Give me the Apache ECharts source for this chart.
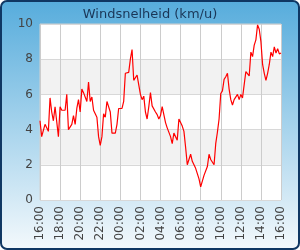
<!DOCTYPE html>
<html>
<head>
<meta charset="utf-8">
<script src="https://cdn.jsdelivr.net/npm/echarts@6/dist/echarts.min.js"></script>
<style>
    html, body { margin: 0; padding: 0; background: #fff; }
    #main { width: 300px; height: 250px; }
</style>
</head>
<body>
<div id="main"></div>
<script>
// wind speed every 10 minutes, 16:00 -> 16:00 next day
var startHour = 16;
var stepMinutes = 10;
var windSpeed = [
    4.5, 3.6, 3.6, 4.3, 4.2, 3.9,      // 16:00
    5.8, 5.0, 4.5, 5.3, 5.2, 3.6,      // 17:00
    5.3, 5.1, 5.1, 5.1, 6.0, 4.0,      // 18:00
    4.1, 4.3, 4.8, 4.3, 5.2, 5.7,      // 19:00
    5.0, 6.3, 6.1, 6.1, 5.6, 6.7,      // 20:00
    5.6, 5.85, 5.1, 5.0, 4.7, 3.6,     // 21:00
    3.1, 3.6, 4.9, 4.7, 5.6, 5.6,      // 22:00
    5.0, 3.8, 3.8, 3.8, 4.3, 5.2,      // 23:00
    5.2, 5.2, 5.6, 7.2, 7.25, 7.25,    // 00:00
    8.0, 8.55, 6.8, 6.8, 7.1, 7.2,     // 01:00
    6.0, 5.7, 5.9, 5.0, 4.6, 5.3,      // 02:00
    6.1, 5.35, 5.35, 5.0, 4.85, 4.6,   // 03:00
    4.8, 5.3, 5.2, 4.4, 4.1, 4.05,     // 04:00
    3.6, 3.2, 3.8, 3.9, 3.4, 4.6,      // 05:00
    4.55, 4.2, 3.9, 3.0, 2.0, 2.3,     // 06:00
    2.6, 2.2, 2.1, 1.8, 1.5, 1.2,      // 07:00
    0.75, 0.7, 1.4, 1.45, 1.9, 2.6,    // 08:00
    2.3, 2.2, 2.0, 3.2, 3.85, 4.6,     // 09:00
    6.05, 6.2, 6.85, 7.0, 7.2, 6.3,    // 10:00
    5.7, 5.4, 5.7, 5.75, 6.0, 5.7,     // 11:00
    6.0, 5.8, 5.85, 7.3, 7.35, 7.05,   // 12:00
    8.4, 8.15, 8.8, 9.1, 9.95, 9.7,    // 13:00
    9.0, 7.7, 7.2, 6.8, 7.2, 7.7,      // 14:00
    8.4, 8.15, 8.7, 8.35, 8.6, 8.3,    // 15:00
    8.35                               // 16:00
];

var points = windSpeed.map(function (v, i) { return [i * stepMinutes, v]; });

function fmtTime(min) {
    var h = (startHour + Math.floor(min / 60)) % 24;
    return (h < 10 ? '0' : '') + h + ':00';
}

var chart = echarts.init(document.getElementById('main'));
chart.setOption({
    animation: false,
    graphic: [{
        type: 'rect',
        z: -10,
        silent: true,
        shape: { x: 1, y: 1, width: 298, height: 248, r: 6 },
        style: {
            fill: new echarts.graphic.LinearGradient(0, 0, 0, 1, [
                { offset: 0, color: '#56acdc' },
                { offset: 1, color: '#f4f9fc' }
            ]),
            stroke: '#0f3763',
            lineWidth: 2
        }
    }],
    title: {
        text: 'Windsnelheid (km/u)',
        left: 'center',
        top: 3,
        textStyle: { color: '#1a3657', fontSize: 13, fontWeight: 'normal', fontFamily: 'DejaVu Sans' }
    },
    grid: {
        left: 40, right: 19, top: 24, bottom: 50,
        show: true,
        backgroundColor: '#ffffff',
        borderColor: '#d0d0d0',
        borderWidth: 1
    },
    xAxis: {
        type: 'value',
        min: 0,
        max: 1440,
        interval: 120,
        axisLine: { show: false },
        axisTick: { show: false },
        splitLine: { lineStyle: { color: '#cccccc', width: 1 } },
        axisLabel: {
            rotate: 90,
            margin: 6,
            color: '#444',
            fontSize: 12,
            fontFamily: 'DejaVu Sans',
            formatter: fmtTime
        }
    },
    yAxis: {
        type: 'value',
        min: 0,
        max: 10,
        interval: 2,
        axisLine: { show: false },
        axisTick: { show: false },
        splitLine: { lineStyle: { color: '#d8d8d8', width: 1 } },
        splitArea: { show: true, areaStyle: { color: ['#ffffff', '#f2f2f2'] } },
        axisLabel: { color: '#444', fontSize: 12, margin: 7, fontFamily: 'DejaVu Sans' }
    },
    series: [{
        type: 'line',
        data: points,
        showSymbol: false,
        lineStyle: { color: '#ff0000', width: 1.2 }
    }]
});
</script>
</body>
</html>
